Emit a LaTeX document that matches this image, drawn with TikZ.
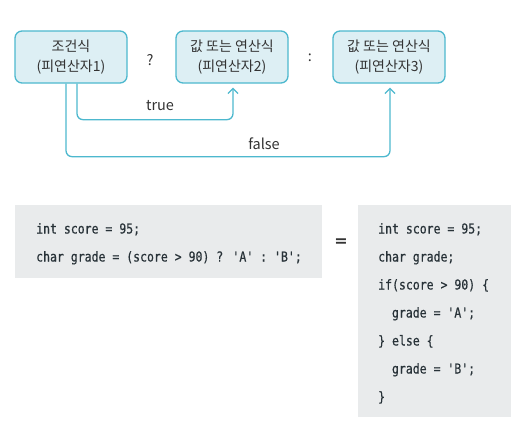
\documentclass[tikz,border=0pt]{standalone}
\usepackage{fontspec}
\usetikzlibrary{arrows.meta}
\newfontfamily\krfont{Noto Sans CJK KR}
\newfontfamily\codefont{DejaVu Sans Mono}[FakeStretch=0.84,FakeBold=0.5]
\newfontfamily\eqfont{DejaVu Sans}
\definecolor{boxline}{HTML}{4DB8CE}
\definecolor{boxfill}{HTML}{DDEFF4}
\definecolor{codefill}{HTML}{E9EBEC}
\definecolor{txt}{HTML}{333333}
\definecolor{codetxt}{HTML}{283238}
\tikzset{
  opbox/.style={draw=boxline, fill=boxfill, line width=1.3pt, rounded corners=7pt,
    minimum width=112pt, minimum height=52pt, inner sep=0pt, align=center,
    font=\krfont\fontsize{14}{20}\selectfont, text=txt},
  conn/.style={draw=boxline, line width=1.3pt, rounded corners=6pt,
    -{Straight Barb[length=5pt,width=10pt,line width=1.3pt]}, shorten >=4pt},
  lbl/.style={font=\krfont\fontsize{14.5}{16}\selectfont, text=txt, inner sep=0pt},
  codebox/.style={fill=codefill, draw=none},
  code/.style={anchor=base west, inner sep=0pt, font=\codefont\fontsize{13.7}{16}\selectfont, text=codetxt}
}
\begin{document}
\begin{tikzpicture}[x=1pt, y=-1pt]
\useasboundingbox (0,0) rectangle (511,426);
% top diagram
\node[opbox] (b1) at (71,57) {조건식\\(피연산자1)};
\node[opbox] (b2) at (232,57) {값 또는 연산식\\(피연산자2)};
\node[opbox] (b3) at (389,57) {값 또는 연산식\\(피연산자3)};
\node[lbl] (q) at (150,60) {?};
\node[lbl] (c) at (310,58) {:};
\draw[conn] ([xshift=6pt]b1.south) -- ++(0,36) -| ([xshift=1pt]b2.south);
\draw[conn] ([xshift=-5pt]b1.south) -- ++(0,73) -| ([xshift=1pt]b3.south);
\node[lbl] (t) at (160,106) {true};
\node[lbl] (f) at (264,144) {false};
% code boxes
\path[codebox] (15,205) rectangle (322,278);
\path[codebox] (358,205) rectangle (512,417);
\node[code] (l1) at (36,233.5) {int score = 95;};
\node[code] (l2) at (36,261.5) {char grade = (score > 90) ? 'A' : 'B';};
\node[font=\eqfont\bfseries\fontsize{16}{16}\selectfont, text=txt, inner sep=0pt] (eq) at (341,243) {=};
\node[code] (r1) at (378,233.5) {int score = 95;};
\node[code] (r2) at (378,261.5) {char grade;};
\node[code] (r3) at (378,289.5) {if(score > 90) \{};
\node[code] (r4) at (391.8,317.5) {grade = 'A';};
\node[code] (r5) at (378,345.5) {\} else \{};
\node[code] (r6) at (391.8,373.5) {grade = 'B';};
\node[code] (r7) at (378,401.5) {\}};
\end{tikzpicture}
\end{document}
